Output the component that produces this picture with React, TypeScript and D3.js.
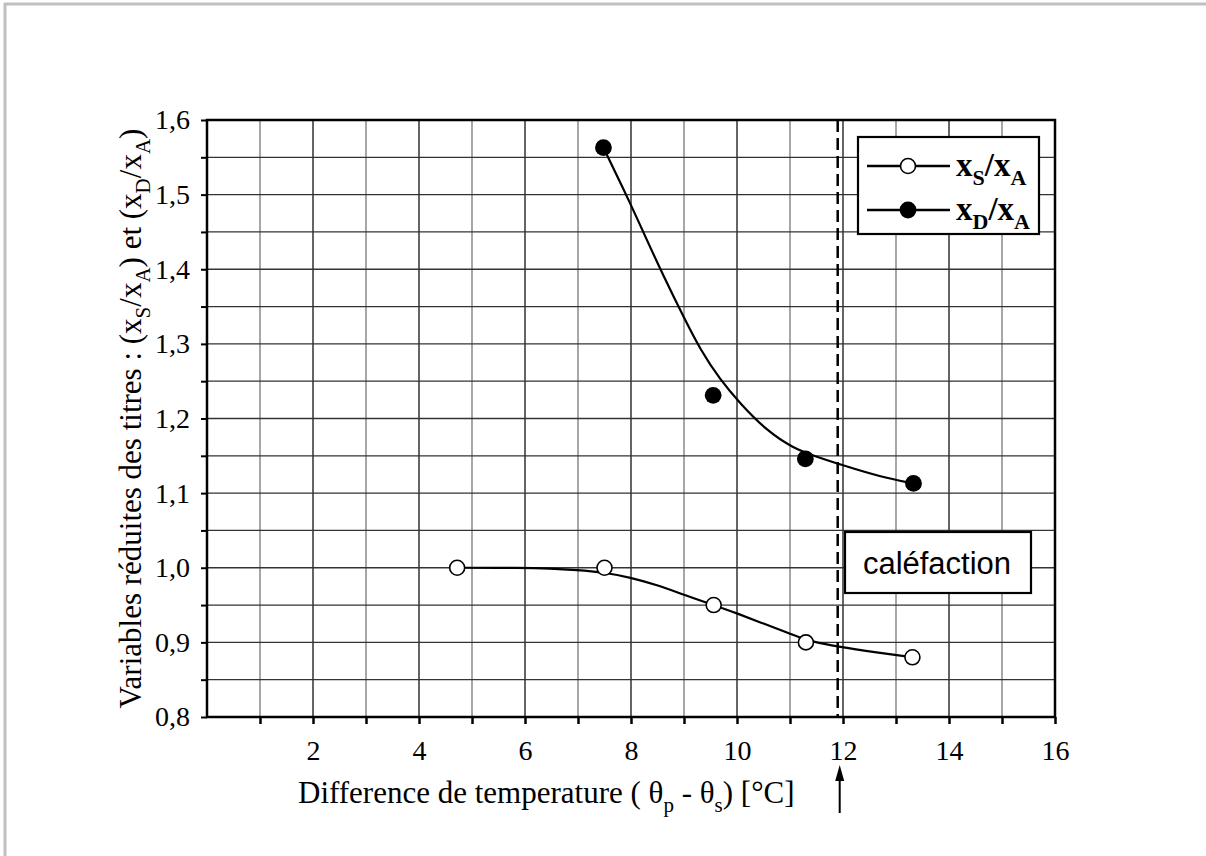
import { useEffect, useRef } from 'react';
import { scaleLinear, line, curveBasis, select, axisBottom, axisLeft, range } from 'd3';

// measured points
const xsTemp = [4.72, 7.5, 9.56, 11.3, 13.31];
const xsRatio = [1.0, 1.0, 0.95, 0.9, 0.88];
const xdTemp = [7.48, 9.55, 11.29, 13.33];
const xdRatio = [1.563, 1.231, 1.146, 1.113];

// hand drawn fit curves
const xsFitTemp = [4.72, 5.95, 6.46, 6.98, 7.48, 7.99, 8.49, 8.99, 9.56, 10.0, 10.5, 11.0, 11.3, 11.76, 12.38, 13.31];
const xsFitRatio = [1.0, 1.0, 0.999, 0.997, 0.994, 0.987, 0.977, 0.964, 0.95, 0.939, 0.925, 0.912, 0.903, 0.896, 0.889, 0.88];
const xdFitTemp = [7.48, 7.99, 8.3, 8.62, 9.0, 9.31, 9.68, 10.06, 10.57, 11.07, 11.45, 12.01, 12.7, 13.33];
const xdFitRatio = [1.563, 1.488, 1.439, 1.39, 1.335, 1.292, 1.252, 1.22, 1.183, 1.16, 1.15, 1.137, 1.122, 1.113];

const xLabelTicks = [2, 4, 6, 8, 10, 12, 14, 16];
const calefactionTemp = 11.9;

const W = 1206;
const H = 856;
const left = 207;
const right = 1055;
const top = 120;
const bottom = 717;

const serif = "'Liberation Serif', 'Times New Roman', serif";
const sans = "'Liberation Sans', Arial, sans-serif";
const tickFont = 28;
const titleFont = 31;

const x = scaleLinear().domain([0, 16]).range([left, right]);
const y = scaleLinear().domain([0.8, 1.6]).range([bottom, top]);

const fitLine = line<[number, number]>()
  .x((d) => x(d[0]))
  .y((d) => y(d[1]))
  .curve(curveBasis);

const XAxis = () => {
  const ref = useRef<SVGGElement>(null);
  useEffect(() => {
    if (!ref.current) return;
    const g = select(ref.current);
    g.selectAll('*').remove();
    g.call(
      axisBottom(x)
        .tickValues(range(1, 17))
        .tickSize(7)
        .tickPadding(16)
        .tickFormat((d) => (xLabelTicks.includes(+d) ? String(d) : ''))
    );
    g.select('.domain').remove();
    g.selectAll('.tick line').attr('stroke', '#000').attr('stroke-width', 2.5);
    g.selectAll('.tick text').attr('font-family', serif).attr('font-size', tickFont).attr('fill', '#000');
  }, []);
  return <g ref={ref} transform={`translate(0, ${bottom})`} />;
};

const YAxis = () => {
  const ref = useRef<SVGGElement>(null);
  useEffect(() => {
    if (!ref.current) return;
    const g = select(ref.current);
    g.selectAll('*').remove();
    const ticks = range(0, 17).map((i) => 0.8 + i * 0.05);
    g.call(
      axisLeft(y)
        .tickValues(ticks)
        .tickSize(6)
        .tickPadding(11)
        .tickFormat((d, i) => (i % 2 === 0 ? (+d).toFixed(1).replace('.', ',') : ''))
    );
    g.select('.domain').remove();
    g.selectAll('.tick line').attr('stroke', '#000').attr('stroke-width', 2);
    g.selectAll('.tick text').attr('font-family', serif).attr('font-size', tickFont).attr('fill', '#000');
  }, []);
  return <g ref={ref} transform={`translate(${left}, 0)`} />;
};

export default function App() {
  const vGrid = range(1, 16);
  const hGrid = range(1, 16).map((i) => 0.8 + i * 0.05);
  const xsFit = xsFitTemp.map((t, i) => [t, xsFitRatio[i]] as [number, number]);
  const xdFit = xdFitTemp.map((t, i) => [t, xdFitRatio[i]] as [number, number]);
  const cx = x(calefactionTemp);

  return (
    <svg
      width={W}
      height={H}
      style={{ position: 'absolute', left: 0, top: 0, background: '#fff' }}
    >
      <rect x={0} y={0} width={W} height={H} fill="#fff" />
      {/* outer grey frame (top and left only) */}
      <line x1={4} y1={4} x2={W} y2={4} stroke="#c0c0c0" strokeWidth={3} />
      <line x1={5} y1={3} x2={5} y2={H} stroke="#c0c0c0" strokeWidth={3} />

      {/* grid */}
      {vGrid.map((v) => (
        <line
          key={'v' + v}
          x1={x(v)}
          x2={x(v)}
          y1={top}
          y2={bottom}
          stroke={v % 2 === 0 ? '#111' : '#777'}
          strokeWidth={1.3}
        />
      ))}
      {hGrid.map((v, i) => (
        <line
          key={'h' + i}
          x1={left}
          x2={right}
          y1={y(v)}
          y2={y(v)}
          stroke="#333"
          strokeWidth={1.3}
        />
      ))}

      {/* frame */}
      <rect x={left} y={top} width={right - left} height={bottom - top} fill="none" stroke="#000" strokeWidth={2.5} />

      <XAxis />
      <YAxis />

      {/* caléfaction limit */}
      <line x1={cx} x2={cx} y1={top} y2={bottom} stroke="#000" strokeWidth={2.5} strokeDasharray="12 6" />

      {/* fit curves */}
      <path d={fitLine(xsFit) || ''} fill="none" stroke="#000" strokeWidth={2.2} />
      <path d={fitLine(xdFit) || ''} fill="none" stroke="#000" strokeWidth={2.2} />

      {/* points */}
      {xsTemp.map((t, i) => (
        <circle key={'s' + i} cx={x(t)} cy={y(xsRatio[i])} r={7.5} fill="#fff" stroke="#000" strokeWidth={1.6} />
      ))}
      {xdTemp.map((t, i) => (
        <circle key={'d' + i} cx={x(t)} cy={y(xdRatio[i])} r={8.4} fill="#000" />
      ))}

      {/* legend */}
      <rect x={858} y={137} width={181} height={97} fill="#fff" stroke="#000" strokeWidth={2.2} />
      <line x1={867} x2={950} y1={166} y2={166} stroke="#000" strokeWidth={2.5} />
      <circle cx={908} cy={166} r={7.5} fill="#fff" stroke="#000" strokeWidth={1.6} />
      <text x={956} y={176} fontFamily={serif} fontSize={33} fontWeight="bold">
        x<tspan fontSize={22} dy={9}>S</tspan>
        <tspan dy={-9}>/x</tspan>
        <tspan fontSize={22} dy={9}>A</tspan>
      </text>
      <line x1={867} x2={950} y1={210} y2={210} stroke="#000" strokeWidth={2.5} />
      <circle cx={908} cy={210} r={8.4} fill="#000" />
      <text x={956} y={220} fontFamily={serif} fontSize={33} fontWeight="bold">
        x<tspan fontSize={22} dy={9}>D</tspan>
        <tspan dy={-9}>/x</tspan>
        <tspan fontSize={22} dy={9}>A</tspan>
      </text>

      {/* caléfaction label */}
      <rect x={845} y={532} width={186} height={61} fill="#fff" stroke="#000" strokeWidth={2.2} />
      <text x={937} y={574} textAnchor="middle" fontFamily={sans} fontSize={31}>
        caléfaction
      </text>

      {/* arrow under 12 */}
      <line x1={cx + 2} x2={cx + 2} y1={776} y2={813} stroke="#000" strokeWidth={2} />
      <path d={`M${cx + 2},765 L${cx - 2.5},781 L${cx + 6.5},781 Z`} fill="#000" />

      {/* axis titles */}
      <text x={298} y={803} fontFamily={serif} fontSize={titleFont}>
        Difference de temperature ( θ<tspan fontSize={21} dy={9}>p</tspan>
        <tspan dy={-9}> - θ</tspan>
        <tspan fontSize={21} dy={9}>s</tspan>
        <tspan dy={-9}>) [°C]</tspan>
      </text>
      <text
        transform={`translate(141, ${(top + bottom) / 2}) rotate(-90)`}
        textAnchor="middle"
        fontFamily={serif}
        fontSize={titleFont}
      >
        Variables réduites des titres : (x<tspan fontSize={21} dy={9}>S</tspan>
        <tspan dy={-9}>/x</tspan>
        <tspan fontSize={21} dy={9}>A</tspan>
        <tspan dy={-9}>) et (x</tspan>
        <tspan fontSize={21} dy={9}>D</tspan>
        <tspan dy={-9}>/x</tspan>
        <tspan fontSize={21} dy={9}>A</tspan>
        <tspan dy={-9}>)</tspan>
      </text>
    </svg>
  );
}
